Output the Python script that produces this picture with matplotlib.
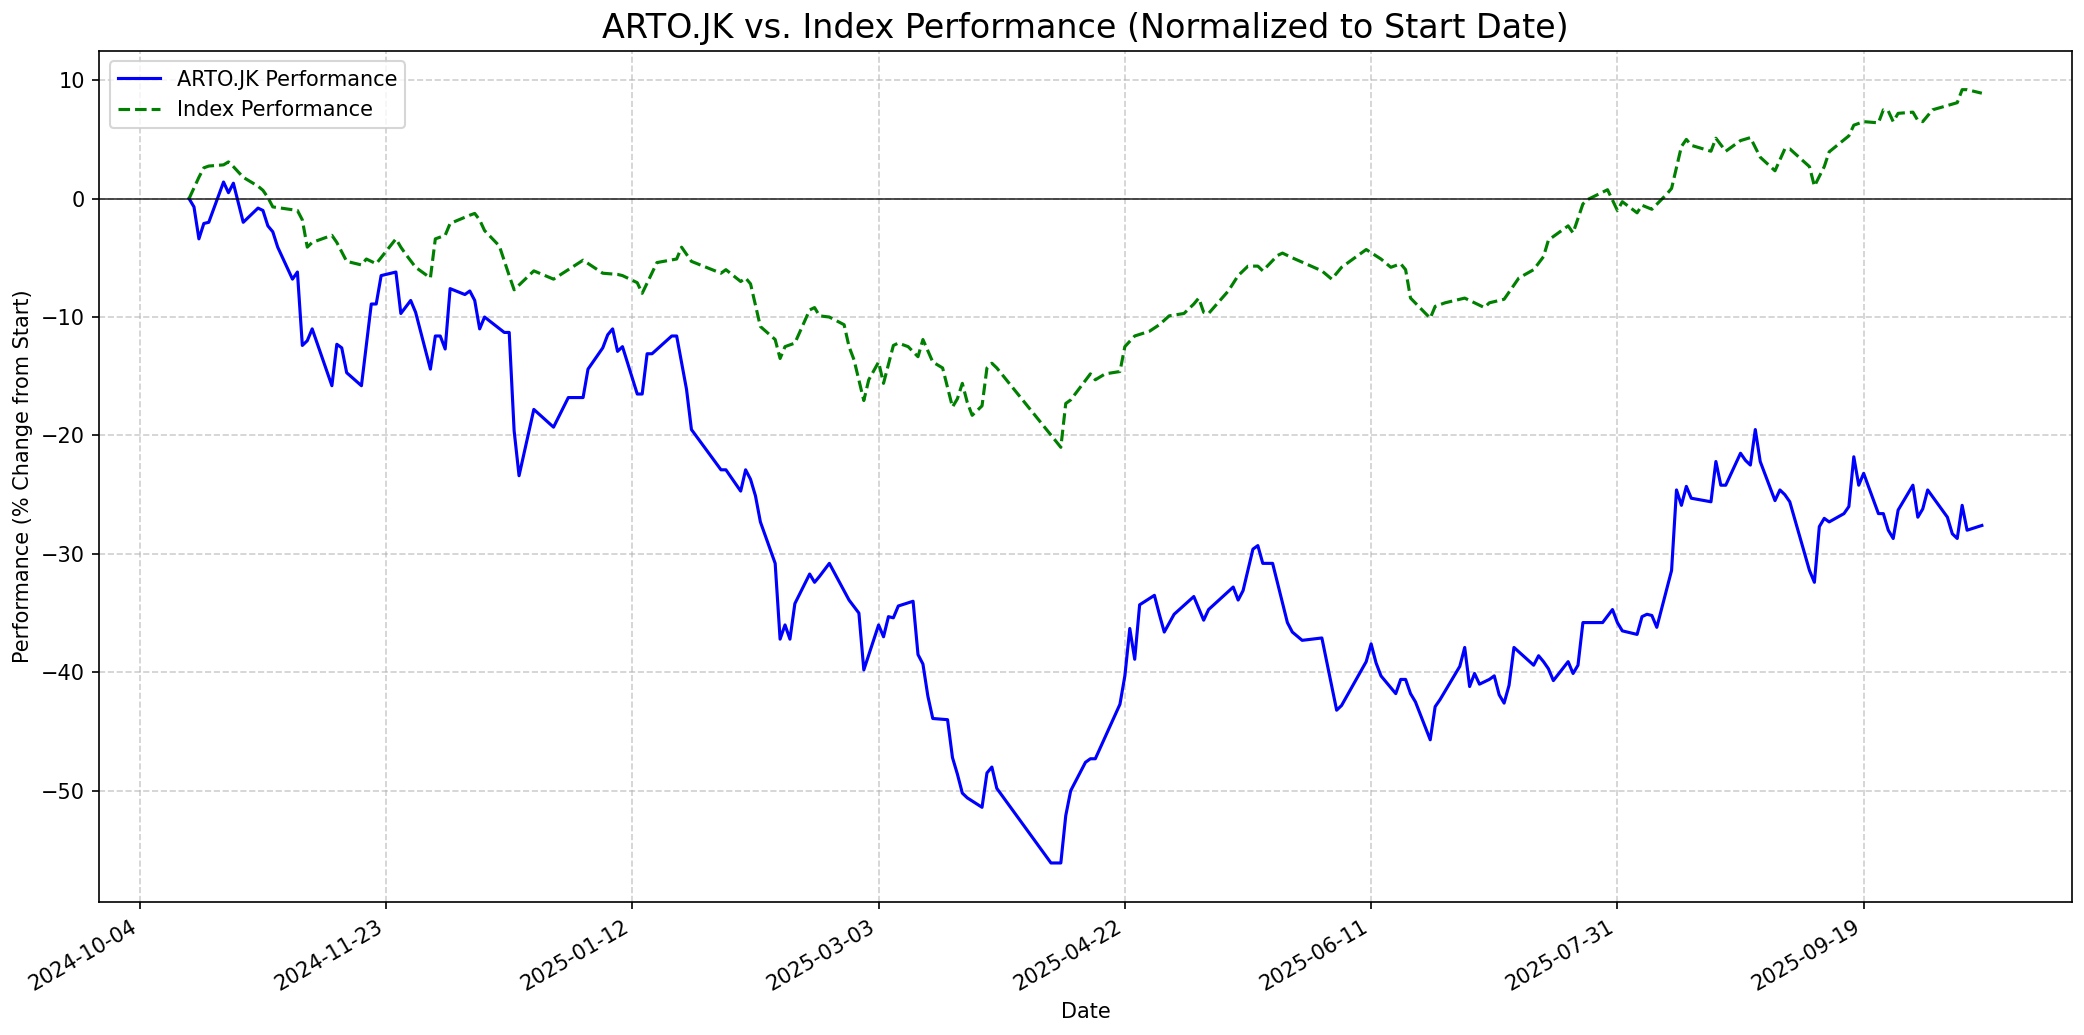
import numpy as np
import pandas as pd
import matplotlib
matplotlib.use("Agg")
from matplotlib import pyplot as plt
import matplotlib.dates as mdates

# day offsets from 2024-10-04, values in % change from start
base_date = "2024-10-04"

arto_day = [10, 11, 12, 13, 14, 17, 18, 19, 21, 24, 25, 26, 27, 28, 31, 32, 33, 34, 35,
            39, 40, 41, 42, 45, 47, 48, 49, 52, 53, 55, 56, 59, 60, 61, 62, 63, 66, 67,
            68, 69, 70, 74, 75, 76, 77, 80, 84, 87, 90, 91, 94, 95, 96, 97, 98, 101, 102,
            103, 104, 108, 109, 111, 112, 118, 119, 122, 123, 124, 125, 126, 129, 130,
            131, 132, 133, 136, 137, 138, 140, 144, 146, 147, 150, 151, 152, 153, 154,
            157, 158, 159, 160, 161, 164, 165, 166, 167, 168, 171, 172, 173, 174, 185,
            187, 188, 189, 192, 193, 194, 199, 200, 201, 202, 203, 206, 207, 208, 210,
            214, 216, 217, 222, 223, 224, 226, 227, 228, 230, 233, 234, 236, 240, 243,
            244, 249, 250, 251, 252, 255, 256, 257, 258, 259, 262, 263, 264, 268, 269,
            270, 271, 272, 274, 275, 276, 277, 278, 279, 283, 284, 285, 286, 287, 290,
            291, 292, 293, 297, 299, 300, 301, 304, 305, 306, 307, 308, 311, 312, 313,
            314, 315, 319, 320, 321, 322, 325, 326, 327, 328, 329, 332, 333, 334, 335,
            339, 340, 341, 342, 343, 346, 347, 348, 349, 350, 353, 354, 355, 356, 357,
            360, 361, 362, 363, 367, 368, 369, 370, 371, 374]
arto_pct = [0, -0.7, -3.4, -2.1, -2.0, 1.4, 0.5, 1.3, -2.0, -0.8, -1.0, -2.3, -2.8, -4.1,
            -6.8, -6.2, -12.4, -12.0, -11.0, -15.8, -12.3, -12.6, -14.7, -15.8, -8.9,
            -8.9, -6.5, -6.2, -9.7, -8.6, -9.6, -14.4, -11.6, -11.6, -12.7, -7.6, -8.1,
            -7.8, -8.6, -11.0, -10.0, -11.3, -11.3, -19.6, -23.4, -17.8, -19.3, -16.8,
            -16.8, -14.4, -12.6, -11.5, -11.0, -12.9, -12.5, -16.5, -16.5, -13.1, -13.1,
            -11.6, -11.6, -16.1, -19.5, -22.9, -22.9, -24.7, -22.9, -23.7, -25.1, -27.3,
            -30.8, -37.2, -36.0, -37.2, -34.2, -31.7, -32.4, -31.9, -30.8, -33.9, -35.0,
            -39.8, -36.0, -37.0, -35.3, -35.4, -34.4, -34.0, -38.5, -39.3, -42.0, -43.9,
            -44.0, -47.2, -48.6, -50.2, -50.6, -51.4, -48.5, -48.0, -49.8, -56.1, -56.1,
            -52.1, -50.0, -47.6, -47.3, -47.3, -42.7, -40.3, -36.3, -38.9, -34.3, -33.5,
            -35.1, -36.6, -35.1, -33.6, -35.6, -34.7, -32.8, -33.9, -33.1, -29.6, -29.3,
            -30.8, -30.8, -35.8, -36.6, -37.3, -37.1, -43.2, -42.8, -39.1, -37.6, -39.2,
            -40.3, -41.8, -40.6, -40.6, -41.8, -42.5, -45.7, -42.9, -42.3, -39.5, -37.9,
            -41.2, -40.1, -41.0, -40.6, -40.3, -41.9, -42.6, -41.1, -37.9, -39.4, -38.6,
            -39.1, -39.7, -40.7, -39.1, -40.1, -39.4, -35.8, -35.8, -34.7, -35.8, -36.5,
            -36.8, -35.3, -35.1, -35.2, -36.2, -31.4, -24.6, -25.9, -24.3, -25.3, -25.6,
            -22.2, -24.2, -24.2, -21.5, -22.1, -22.5, -19.5, -22.2, -25.5, -24.6, -25.0,
            -25.6, -31.4, -32.4, -27.7, -27.0, -27.3, -26.6, -26.0, -21.8, -24.2, -23.2,
            -26.6, -26.6, -28.0, -28.7, -26.3, -24.2, -26.9, -26.2, -24.6, -26.9, -28.3,
            -28.7, -25.9, -28.0, -27.6]

index_day = [10, 11, 12, 13, 14, 17, 18, 19, 21, 24, 25, 26, 27, 32, 33, 34, 35, 39, 40,
             42, 45, 46, 48, 52, 53, 54, 56, 59, 60, 62, 63, 67, 68, 69, 70, 73, 75, 76,
             80, 84, 90, 94, 97, 98, 101, 102, 105, 109, 110, 112, 118, 119, 122, 123,
             124, 126, 129, 130, 131, 133, 136, 137, 138, 140, 143, 144, 145, 147, 148,
             150, 151, 153, 154, 156, 158, 159, 161, 163, 165, 166, 167, 168, 169, 171,
             172, 173, 174, 187, 188, 189, 193, 194, 196, 199, 200, 202, 205, 207, 209,
             212, 214, 215, 216, 217, 221, 223, 225, 227, 228, 231, 232, 234, 240, 242,
             244, 249, 252, 254, 256, 257, 258, 262, 263, 265, 269, 273, 274, 277, 280,
             283, 285, 286, 290, 291, 293, 294, 298, 300, 301, 304, 305, 307, 310, 311,
             313, 314, 315, 319, 320, 322, 325, 327, 329, 332, 334, 335, 339, 340, 342,
             343, 347, 348, 350, 353, 354, 355, 356, 357, 360, 361, 362, 364, 369, 370,
             371, 374]
index_pct = [0, 0.9, 1.8, 2.6, 2.75, 2.85, 3.1, 2.7, 1.8, 1.05, 0.7, 0.1, -0.7, -1.0,
             -1.8, -4.1, -3.7, -3.1, -3.7, -5.3, -5.6, -5.1, -5.5, -3.4, -4.1, -4.7, -5.8,
             -6.7, -3.4, -3.1, -2.1, -1.4, -1.25, -1.8, -2.7, -4.0, -6.5, -7.7, -6.1,
             -6.8, -5.2, -6.3, -6.4, -6.5, -7.1, -8.0, -5.4, -5.1, -4.1, -5.3, -6.3,
             -6.0, -7.0, -6.7, -7.2, -10.8, -11.9, -13.5, -12.5, -12.2, -9.4, -9.2, -9.9,
             -10.0, -10.65, -12.5, -13.6, -17.05, -15.3, -13.8, -15.6, -12.4, -12.2,
             -12.5, -13.35, -11.9, -13.8, -14.3, -17.6, -16.9, -15.6, -17.2, -18.3,
             -17.5, -14.3, -13.9, -14.3, -21.0, -17.3, -17.0, -14.8, -15.3, -14.8, -14.6,
             -12.5, -11.6, -11.2, -10.65, -9.9, -9.7, -8.9, -8.4, -9.6, -9.7, -7.8, -6.5,
             -5.7, -5.7, -6.1, -4.8, -4.6, -5.0, -6.1, -6.8, -5.8, -4.3, -5.1, -5.8, -5.5,
             -6.0, -8.4, -10.1, -9.1, -8.8, -8.4, -9.2, -8.8, -8.5, -6.7, -6.0, -4.9,
             -3.5, -2.3, -2.9, -0.45, -0.07, 0.75, -1.0, -0.26, -1.2, -0.56, -0.9, 0.37,
             0.86, 4.4, 5.0, 4.5, 4.0, 5.1, 4.0, 4.9, 5.15, 3.5, 2.35, 4.2, 4.2, 2.7,
             1.05, 2.7, 3.95, 5.3, 6.2, 6.5, 6.4, 7.5, 7.4, 6.5, 7.2, 7.3, 6.6, 6.5, 7.5,
             8.1, 9.2, 9.2, 8.9]

arto_dates = pd.Timestamp(base_date) + pd.to_timedelta(arto_day, unit="D")
index_dates = pd.Timestamp(base_date) + pd.to_timedelta(index_day, unit="D")
tick_dates = pd.date_range(base_date, periods=8, freq="50D")

fig, ax = plt.subplots(figsize=(2084 / 150, 1035 / 150), dpi=150)
ax.plot(arto_dates, arto_pct, color="blue", linewidth=1.5, label="ARTO.JK Performance")
ax.plot(index_dates, index_pct, color="green", linestyle="--", linewidth=1.5,
        label="Index Performance")
ax.axhline(0, color="black", linewidth=0.8, alpha=0.8)

ax.set_title("ARTO.JK vs. Index Performance (Normalized to Start Date)", fontsize=16)
ax.set_xlabel("Date")
ax.set_ylabel("Performance (% Change from Start)")
ax.set_xticks(tick_dates)
ax.xaxis.set_major_formatter(mdates.DateFormatter("%Y-%m-%d"))
ax.grid(True, linestyle="--", alpha=0.6)
ax.legend(loc="upper left")
fig.autofmt_xdate()
plt.tight_layout(pad=0.6)
plt.savefig("out.png", dpi=150)
